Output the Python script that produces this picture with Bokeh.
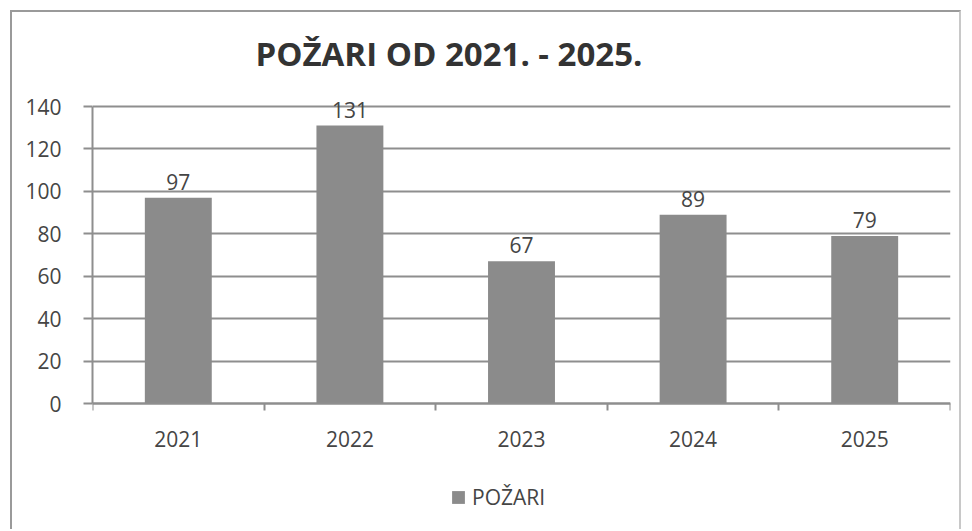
from bokeh.plotting import figure
from bokeh.models import FixedTicker, Legend, LegendItem, ColumnDataSource, Range1d, LabelSet
from bokeh.embed import file_html
from bokeh.resources import INLINE
from bokeh.core.properties import value

title_text = "POŽARI OD 2021. - 2025."
series_name = "POŽARI"
years = ["2021", "2022", "2023", "2024", "2025"]
fires = [97, 131, 67, 89, 79]
y_ticks = [0, 20, 40, 60, 80, 100, 120, 140]

TEXT = "#454545"
GRID = "#8e8e8e"
BAR = "#8b8b8b"
FONT = "Open Sans"

H, TOP, BOTTOM = 519, 79, 0
PX_PER_UNIT = 297 / 140.0
y_end = 140 + 15 / PX_PER_UNIT
y_start = y_end - (H - TOP - BOTTOM) / PX_PER_UNIT

xs = [i + 0.5 for i in range(len(years))]
src = ColumnDataSource(dict(x=xs, y=fires, lab=[str(v) for v in fires]))

p = figure(width=951, height=H, output_backend="svg", toolbar_location=None,
           x_range=Range1d(0, len(years)), y_range=Range1d(y_start, y_end),
           min_border_left=80, min_border_right=13, min_border_top=TOP,
           min_border_bottom=BOTTOM)
p.outline_line_color = None
p.background_fill_color = "white"
p.border_fill_color = "white"
p.styles = {"margin-left": "10px", "margin-top": "10px",
            "border-left": "2px solid #9a9a9a", "border-top": "2px solid #9a9a9a",
            "border-right": "2px solid #c8c8c8"}

p.title.text = title_text
p.title.text_font = FONT
p.title.text_font_style = "bold"
p.title.text_font_size = "33px"
p.title.text_color = "#333333"
p.title.align = "left"
p.title.offset = 163
p.title.standoff = 31

r = p.vbar(x="x", top="y", width=0.39, source=src, fill_color=BAR, line_color=None)
labels = LabelSet(x="x", y="y", text="lab", source=src, text_align="center",
                  text_baseline="middle", y_offset=16, text_font=value(FONT),
                  text_font_size="21px", text_color=TEXT)
p.add_layout(labels)

# y axis
p.yaxis.ticker = FixedTicker(ticks=y_ticks)
p.yaxis.bounds = (0, 140)
p.yaxis.axis_line_color = GRID
p.yaxis.axis_line_width = 2
p.yaxis.major_tick_line_color = GRID
p.yaxis.major_tick_line_width = 2
p.yaxis.major_tick_out = 9
p.yaxis.major_tick_in = 0
p.yaxis.minor_tick_line_color = None
p.yaxis.major_label_text_font = FONT
p.yaxis.major_label_text_font_size = "21px"
p.yaxis.major_label_text_color = TEXT
p.yaxis.major_label_standoff = 22

# x axis: at value 0, labels at bar centres, tick marks at category edges
p.xaxis.fixed_location = 0
p.xaxis.ticker = FixedTicker(ticks=xs, minor_ticks=list(range(len(years) + 1)))
p.xaxis.major_label_overrides = {x: y for x, y in zip(xs, years)}
p.xaxis.axis_line_color = GRID
p.xaxis.axis_line_width = 2
p.xaxis.major_tick_line_color = None
p.xaxis.major_tick_out = 0
p.xaxis.major_tick_in = 0
p.xaxis.minor_tick_line_color = GRID
p.xaxis.minor_tick_line_width = 2
p.xaxis.minor_tick_out = 7
p.xaxis.minor_tick_in = 0
p.xaxis.major_label_text_font = FONT
p.xaxis.major_label_text_font_size = "21px"
p.xaxis.major_label_text_color = TEXT
p.xaxis.major_label_standoff = 20

p.xgrid.grid_line_color = None
p.ygrid.ticker = FixedTicker(ticks=y_ticks)
p.ygrid.grid_line_color = GRID
p.ygrid.grid_line_width = 2

legend = Legend(items=[LegendItem(label=series_name, renderers=[r])],
                location=(358, 20), orientation="horizontal",
                glyph_width=16, glyph_height=16, label_standoff=6,
                label_text_font=FONT, label_text_font_size="21px", label_text_color=TEXT,
                border_line_color=None, background_fill_alpha=0, padding=0, margin=0)
p.add_layout(legend, "center")

open("out.html", "w").write(file_html(p, INLINE))
